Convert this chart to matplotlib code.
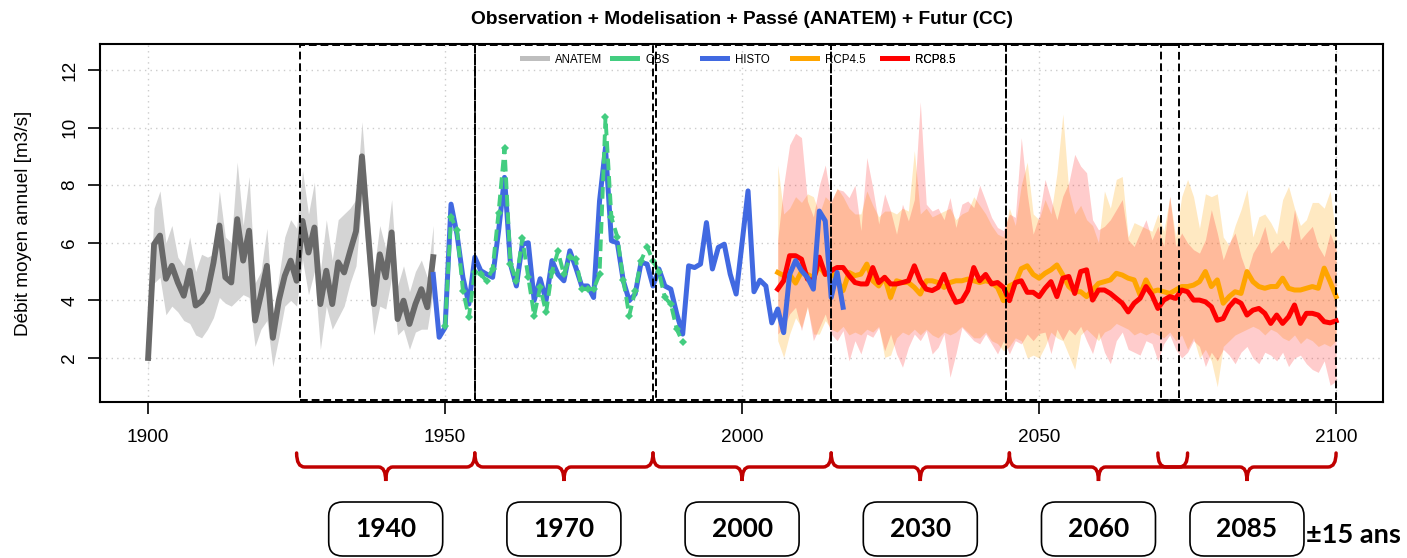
import numpy as np
import matplotlib
matplotlib.use('Agg')
import matplotlib.pyplot as plt
from matplotlib.patches import Rectangle, FancyBboxPatch, PathPatch
from matplotlib.path import Path
from matplotlib.lines import Line2D
from matplotlib.transforms import IdentityTransform

plt.rcParams['font.family'] = ['Liberation Sans', 'DejaVu Sans']

# ---------------- data ----------------
anatem_years = list(range(1900, 1949))
anatem_median = [2.0, 5.95, 6.25, 4.75, 5.2, 4.62, 4.16, 5.03, 3.82, 3.97,
                 4.3, 5.3, 6.6, 4.8, 4.62, 6.82, 5.38, 6.42, 3.3, 4.2,
                 5.2, 2.7, 3.99, 4.85, 5.38, 4.68, 6.76, 5.66, 6.53, 3.87,
                 5.03, 3.87, 5.32, 4.97, 5.7, 6.4, 9.0, 6.4, 3.87, 5.6,
                 4.8, 6.36, 3.35, 3.99, 3.18, 3.87, 4.39, 3.76, 5.5]
anatem_low = [1.5, 4.6, 4.8, 3.5, 3.8, 3.6, 3.3, 3.2, 2.8, 2.7,
              3.0, 3.4, 4.1, 3.9, 3.8, 4.0, 4.2, 4.1, 2.4, 3.0,
              3.3, 1.7, 2.7, 3.8, 4.0, 3.8, 5.4, 4.2, 5.0, 2.3,
              3.8, 3.0, 3.4, 3.8, 4.6, 5.2, 7.5, 5.0, 2.8, 3.8,
              3.7, 4.8, 2.8, 3.0, 2.3, 2.9, 3.0, 3.0, 4.3]
anatem_high = [2.3, 7.2, 7.8, 6.0, 6.6, 5.5, 5.2, 6.2, 5.0, 5.6,
               5.5, 5.6, 7.8, 6.2, 6.0, 8.8, 6.6, 8.3, 4.6, 5.0,
               6.5, 3.4, 4.8, 6.2, 6.8, 6.5, 8.5, 7.0, 8.1, 5.0,
               6.8, 5.4, 6.8, 7.0, 7.2, 7.5, 10.2, 7.5, 5.0, 6.6,
               5.8, 7.5, 4.5, 5.2, 4.3, 5.0, 5.4, 4.8, 6.6]

obs_years = list(range(1950, 1991))
obs_values = [3.1, 6.9, 6.44, 4.34, 3.41, 5.0, 4.9, 4.68, 5.09, 7.05,
              9.28, 5.26, 4.68, 6.16, 4.8, 3.47, 4.45, 3.58, 5.0, 5.7,
              4.9, 5.49, 5.43, 4.39, 4.39, 4.39, 4.9, 10.35, 6.88, 6.2,
              4.7, 3.47, 4.33, 5.38, 5.86, 5.38, 4.97, 4.1, 3.87, 3.0,
              2.54]

histo_years = list(range(1948, 2018))
histo_values = [4.9, 2.72, 3.06, 7.34, 6.3, 4.8, 3.87, 5.5, 5.03, 4.91,
                4.8, 6.4, 8.27, 5.26, 4.5, 5.95, 6.0, 4.0, 4.75, 4.0,
                5.38, 4.9, 4.68, 5.72, 5.14, 4.5, 4.5, 4.1, 7.45, 9.3,
                6.07, 6.0, 4.68, 3.99, 4.22, 5.32, 5.26, 4.5, 5.09, 4.5,
                4.39, 3.53, 2.83, 5.2, 5.14, 5.26, 6.7, 5.09, 5.84, 5.95,
                4.91, 4.22, 6.0, 7.8, 4.3, 4.7, 4.5, 3.22, 3.7, 2.88,
                4.9, 5.38, 5.03, 4.8, 4.39, 7.1, 6.76, 4.1, 4.97, 3.76]

rcp_years = list(range(2006, 2101))
rcp45_values = [4.97, 4.86, 4.9, 4.6, 5.0, 4.9, 4.8, 5.2, 4.9, 5.0,
                4.68, 4.34, 4.97, 4.86, 4.91, 5.26, 4.68, 4.5, 4.8, 4.1,
                4.68, 4.62, 4.62, 4.45, 4.22, 4.68, 4.68, 4.62, 4.45, 4.62,
                4.68, 4.68, 4.74, 4.68, 4.62, 4.68, 4.62, 4.45, 3.99, 4.5,
                4.6, 5.1, 5.2, 4.9, 4.77, 4.94, 5.06, 5.23, 4.88, 4.48,
                4.3, 4.3, 4.13, 4.36, 4.59, 4.65, 4.71, 4.94, 4.88, 4.77,
                4.71, 4.19, 4.71, 4.3, 4.36, 4.3, 4.24, 4.36, 4.48, 4.48,
                4.53, 4.65, 5.0, 4.48, 4.71, 3.9, 4.13, 4.3, 4.24, 5.0,
                4.65, 4.48, 4.42, 4.48, 4.48, 4.77, 4.42, 4.36, 4.36, 4.42,
                4.48, 4.42, 5.12, 4.65, 4.13]
rcp45_low = [2.6, 2.02, 2.83, 3.4, 3.06, 3.76, 2.83, 2.83, 3.3, 3.0,
             2.9, 3.1, 2.8, 2.9, 2.8, 3.0, 2.9, 3.1, 2.02, 2.1,
             2.7, 2.9, 2.8, 3.0, 2.8, 3.0, 2.8, 2.7, 2.9, 2.8,
             2.9, 3.1, 2.9, 2.7, 2.7, 2.9, 2.6, 2.5, 2.25, 2.4,
             2.7, 2.6, 2.0, 2.1, 2.0, 2.4, 2.9, 2.7, 2.6, 2.1,
             1.6, 2.8, 3.0, 2.8, 2.6, 2.9, 3.0, 3.2, 3.1, 3.0,
             2.8, 2.9, 2.8, 2.9, 2.8, 2.7, 2.9, 2.6, 2.8, 2.3,
             2.7, 2.0, 2.3, 1.9, 1.0, 2.4, 2.6, 2.8, 2.9, 3.0,
             3.1, 3.0, 2.8, 3.0, 2.9, 2.7, 2.6, 2.8, 2.5, 2.7,
             2.6, 2.4, 2.5, 2.4, 2.6]
rcp45_high = [8.7, 7.0, 7.2, 7.6, 7.4, 7.7, 7.6, 7.0, 7.6, 7.4,
              7.9, 7.6, 7.2, 7.0, 7.0, 7.8, 7.3, 6.9, 7.1, 7.1,
              7.0, 7.2, 7.1, 9.2, 7.0, 7.2, 6.9, 7.0, 7.1, 7.2,
              6.8, 7.0, 7.1, 7.6, 7.3, 7.0, 6.6, 6.3, 6.2, 7.2,
              6.6, 8.0, 8.8, 7.0, 6.8, 7.5, 7.0, 8.4, 10.47, 7.8,
              7.0, 7.3, 6.8, 6.6, 6.0, 7.8, 7.2, 8.2, 8.3, 6.2,
              6.7, 6.6, 6.5, 6.4, 7.0, 6.4, 7.6, 6.2, 7.6, 8.2,
              7.6, 6.5, 7.7, 7.6, 7.7, 6.2, 5.9, 6.6, 7.15, 7.85,
              6.2, 6.9, 7.0, 6.7, 6.3, 7.5, 7.96, 7.2, 6.6, 6.8,
              7.4, 7.4, 7.2, 7.8, 6.2]
rcp85_values = [4.39, 4.68, 5.55, 5.55, 5.43, 4.74, 4.68, 5.5, 4.9, 5.03,
                5.14, 5.14, 4.86, 4.62, 4.57, 4.57, 5.14, 4.62, 4.8, 4.57,
                4.57, 4.62, 4.68, 5.2, 4.68, 4.39, 4.34, 4.45, 4.9, 4.34,
                3.93, 3.99, 4.34, 5.14, 4.68, 4.9, 4.57, 4.62, 4.45, 3.99,
                4.62, 4.68, 4.28, 4.28, 4.13, 4.42, 4.65, 4.13, 4.77, 4.83,
                4.24, 5.0, 5.06, 4.01, 4.36, 4.36, 4.24, 4.07, 3.9, 3.6,
                3.9, 4.07, 4.48, 4.19, 3.72, 4.01, 4.13, 4.07, 4.36, 4.3,
                4.01, 4.01, 3.95, 3.78, 3.31, 3.37, 3.78, 4.01, 3.9, 3.49,
                3.66, 3.72, 3.55, 3.2, 3.49, 3.2, 3.43, 3.84, 3.2, 3.55,
                3.55, 3.49, 3.26, 3.22, 3.29]
rcp85_low = [2.83, 3.06, 3.53, 3.76, 2.95, 3.8, 2.6, 3.06, 3.53, 2.83,
             2.6, 2.95, 1.9, 2.6, 2.14, 2.83, 2.72, 3.06, 2.25, 2.83,
             2.14, 1.68, 2.37, 2.83, 2.6, 2.95, 2.14, 2.37, 2.83, 1.33,
             2.14, 3.06, 2.83, 2.6, 2.49, 2.83, 2.49, 2.14, 2.6, 2.14,
             2.6, 2.49, 2.83, 2.6, 2.85, 2.9, 2.15, 3.0, 2.62, 3.0,
             2.8, 3.1, 2.6, 2.15, 2.9, 2.2, 1.8, 2.6, 2.9, 2.3,
             2.2, 2.1, 2.6, 2.5, 1.9, 2.5, 2.8, 2.3, 2.0, 2.2,
             2.6, 2.4, 1.7, 2.2, 1.9, 2.3, 2.1, 1.8, 2.2, 2.4,
             2.0, 1.8, 2.2, 2.1, 1.9, 2.2, 1.7, 2.0, 2.1, 1.8,
             1.6, 1.5, 1.9, 1.05, 1.2]
rcp85_high = [6.1, 8.0, 9.4, 9.8, 9.65, 7.45, 6.9, 8.0, 8.7, 7.45,
              7.86, 7.8, 7.57, 8.0, 6.42, 8.96, 7.9, 6.65, 7.7, 7.1,
              6.3, 7.34, 6.76, 7.5, 10.9, 7.34, 7.1, 7.2, 6.8, 7.57,
              6.53, 7.34, 7.45, 7.22, 8.0, 7.45, 6.88, 6.53, 6.42, 7.0,
              6.88, 9.65, 7.7, 6.3, 6.92, 8.2, 7.5, 6.8, 7.62, 8.08,
              9.07, 8.66, 8.43, 6.8, 6.45, 6.57, 6.8, 7.15, 7.5, 6.1,
              5.87, 6.34, 6.8, 6.1, 6.57, 5.87, 7.62, 5.87, 6.34, 5.99,
              5.76, 5.64, 6.1, 7.15, 6.34, 5.41, 5.99, 6.34, 5.52, 4.94,
              5.64, 5.99, 6.57, 5.64, 5.87, 6.1, 5.76, 7.15, 6.1, 6.34,
              6.57, 5.87, 5.52, 6.34, 5.76]

series_names = ['ANATEM', 'OBS', 'HISTO', 'RCP4.5', 'RCP8.5']
period_labels = ['1940', '1970', '2000', '2030', '2060', '2085']
period_centers = [1940, 1970, 2000, 2030, 2060, 2085]
box_start = [1925.5, 1955, 1985.5, 2015, 2044.5, 2070.5]
box_end = [1955, 1985, 2015, 2044.5, 2073.5, 2100]
brace_start = [1925, 1955, 1985, 2015, 2045, 2070]
brace_end = [1955, 1985, 2015, 2045, 2075, 2100]
x_ticks = [1900, 1950, 2000, 2050, 2100]
y_ticks = [2, 4, 6, 8, 10, 12]
title = 'Observation + Modelisation + Passé (ANATEM) + Futur (CC)'
ylabel = 'Débit moyen annuel [m3/s]'
window_note = '±15 ans'

# ---------------- styles ----------------
c_anatem_env = '#d4d4d4'
c_anatem = '#696969'
c_anatem_leg = '#bebebe'
c_obs = '#43CD80'
c_histo = '#4169E1'
c_rcp45 = '#FFA500'
c_rcp85 = '#FF0000'
c_brace = '#C00000'

W, H = 1407, 558
fig = plt.figure(figsize=(W / 100, H / 100), dpi=100)
ax = fig.add_axes([100 / W, (H - 402) / H, 1283 / W, 358 / H])
ax.set_xlim(1891.9, 2107.9)
ax.set_ylim(0.472, 12.9)

ax.grid(True, color='#cccccc', linestyle=(0, (1, 3)), linewidth=1.0)
ax.set_axisbelow(True)

ax.fill_between(rcp_years, rcp45_low, rcp45_high, color=c_rcp45, alpha=0.24, lw=0, zorder=1)
ax.fill_between(rcp_years, rcp85_low, rcp85_high, color=c_rcp85, alpha=0.2, lw=0, zorder=1.1)
ax.fill_between(anatem_years, anatem_low, anatem_high, color=c_anatem_env, lw=0, zorder=2)

ax.plot(anatem_years, anatem_median, color=c_anatem, lw=4.2, zorder=3, solid_joinstyle='round')
ax.plot(rcp_years, rcp45_values, color=c_rcp45, lw=3.6, zorder=4, solid_joinstyle='round')
ax.plot(rcp_years, rcp85_values, color=c_rcp85, lw=3.6, zorder=5, solid_joinstyle='round')
ax.plot(histo_years, histo_values, color=c_histo, lw=3.6, zorder=6, solid_joinstyle='round')
ax.plot(obs_years, obs_values, color=c_obs, lw=2.8, linestyle=(0, (3, 1.5)),
        marker='D', markersize=4.5, markeredgewidth=0, zorder=7)

for s, e in zip(box_start, box_end):
    ax.add_patch(Rectangle((s, 0.53), e - s, 12.86 - 0.53, fill=False, ec='black',
                           lw=1.4, linestyle=(0, (4, 2)), zorder=8))

# axes styling (R-like)
for sp in ax.spines.values():
    sp.set_linewidth(1.5)
ax.set_xticks(x_ticks)
ax.set_yticks(y_ticks)
ax.tick_params(axis='both', length=8.6, width=1.2, labelsize=13.7, color='black')
ax.tick_params(axis='x', pad=10.5)
ax.tick_params(axis='y', pad=7, labelrotation=90)
for lab in ax.get_yticklabels():
    lab.set_va('center')

ax.set_ylabel(ylabel, fontsize=13.7)
ax.yaxis.set_label_coords(-0.053, 0.5)
fig.text((100 + 1283 / 2) / W, 1 - 20 / H, title, ha='center', va='center',
         fontsize=13.8, fontweight='bold')

# legend (R style, uniform column pitch)
leg_colors = [c_anatem_leg, c_obs, c_histo, c_rcp45, c_rcp85]
for i, (name, col) in enumerate(zip(series_names, leg_colors)):
    leg = ax.legend(handles=[Line2D([], [], color=col, lw=3.6)], labels=[name],
                    loc='center left', bbox_to_anchor=(0.3289 + i * 0.07015, 0.9567),
                    frameon=False, fontsize=8.3, handlelength=2.2, handletextpad=0.7,
                    borderpad=0, borderaxespad=0)
    leg.set_zorder(9)
    ax.add_artist(leg)

# braces and period boxes below the axis (display coordinates)
def xpix(year):
    return ax.transData.transform((year, 0))[0]

top, mid, tip = H - 453, H - 467, H - 481
r, tr = 8, 7
for a, b, c in zip(brace_start, brace_end, period_centers):
    xa, xb, xc = xpix(a), xpix(b), xpix(c)
    verts = [(xa, top), (xa, mid), (xa + r, mid), (xc - tr, mid),
             (xc, mid), (xc, tip), (xc, mid), (xc + tr, mid),
             (xb - r, mid), (xb, mid), (xb, top)]
    codes = [Path.MOVETO, Path.CURVE3, Path.CURVE3, Path.LINETO,
             Path.CURVE3, Path.CURVE3, Path.CURVE3, Path.CURVE3,
             Path.LINETO, Path.CURVE3, Path.CURVE3]
    fig.add_artist(PathPatch(Path(verts, codes), fill=False, ec=c_brace, lw=2.5,
                             transform=IdentityTransform(), capstyle='round'))

bw, bh, byc = 114, 54, 529
for lab, c in zip(period_labels, period_centers):
    xc = xpix(c)
    fig.add_artist(FancyBboxPatch((xc - bw / 2, H - byc - bh / 2), bw, bh,
                                  boxstyle='round,pad=0,rounding_size=14',
                                  fc='white', ec='black', lw=1.2,
                                  transform=IdentityTransform()))
    fig.text(xc, H - byc, lab, transform=IdentityTransform(), ha='center', va='center',
             fontsize=19, fontweight='bold', family=['Lato', 'DejaVu Sans'])

fig.text(1306, H - 535, window_note, transform=IdentityTransform(), ha='left', va='center',
         fontsize=19.5, fontweight='bold', family=['Lato', 'DejaVu Sans'])

fig.savefig('out.png', dpi=100)
